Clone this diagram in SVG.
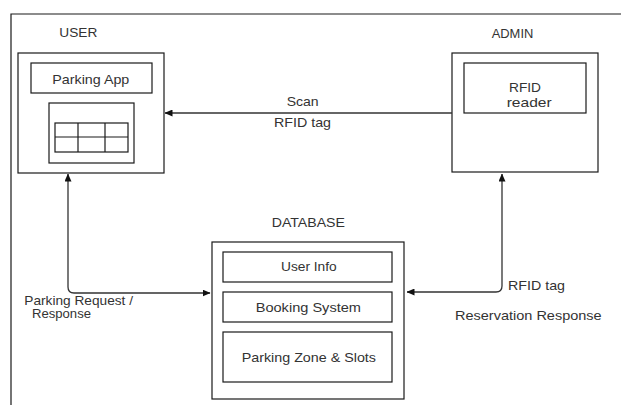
<svg xmlns="http://www.w3.org/2000/svg" width="621" height="405" viewBox="0 0 621 405">
  <style>
    .box { fill: #ffffff; stroke: #1a1a1a; stroke-width: 1.2; }
    .frame { fill: none; stroke: #1a1a1a; stroke-width: 1.2; }
    .wire { fill: none; stroke: #333333; stroke-width: 1.3; }
    .lbl { font-family: "Liberation Sans", Arial, sans-serif; font-size: 13px; fill: #333333; }
  </style>
  <defs>
    <marker id="arrow" viewBox="0 0 8 7" refX="7.5" refY="3.5" markerWidth="8" markerHeight="7" markerUnits="userSpaceOnUse" orient="auto-start-reverse">
      <path d="M0,0 L8,3.5 L0,7 Z" fill="#111111"/>
    </marker>
  </defs>

  <rect width="621" height="405" fill="#ffffff"/>

  <!-- outer page frame (top and left edges only) -->
  <path class="frame" d="M11,405 V14 H621"/>

  <g id="user">
    <text class="lbl" x="59.3" y="37" textLength="38" lengthAdjust="spacingAndGlyphs">USER</text>
    <rect class="box" x="18" y="53" width="146" height="120"/>
    <rect class="box" x="31" y="63" width="121" height="30"/>
    <text class="lbl" x="52.3" y="84" textLength="77" lengthAdjust="spacingAndGlyphs">Parking App</text>
    <rect class="box" x="49" y="103" width="85" height="60"/>
    <g class="frame">
      <rect x="55" y="123" width="73" height="29"/>
      <line x1="55" y1="137" x2="128" y2="137"/>
      <line x1="78" y1="123" x2="78" y2="152"/>
      <line x1="105" y1="123" x2="105" y2="152"/>
    </g>
  </g>

  <g id="admin">
    <text class="lbl" x="491.7" y="38" textLength="41.6" lengthAdjust="spacingAndGlyphs">ADMIN</text>
    <rect class="box" x="452" y="53" width="146" height="119"/>
    <rect class="box" x="464" y="63" width="122" height="50"/>
    <text class="lbl" x="509" y="92" textLength="32" lengthAdjust="spacingAndGlyphs">RFID</text>
    <text class="lbl" x="506.7" y="107" textLength="45" lengthAdjust="spacingAndGlyphs">reader</text>
  </g>

  <g id="database">
    <text class="lbl" x="271.7" y="227" textLength="73.3" lengthAdjust="spacingAndGlyphs">DATABASE</text>
    <rect class="box" x="212" y="242" width="192" height="157"/>
    <rect class="box" x="223" y="252" width="169" height="30"/>
    <text class="lbl" x="281" y="271" textLength="55.7" lengthAdjust="spacingAndGlyphs">User Info</text>
    <rect class="box" x="223" y="292" width="169" height="30"/>
    <text class="lbl" x="255.7" y="312" textLength="105.3" lengthAdjust="spacingAndGlyphs">Booking System</text>
    <rect class="box" x="223" y="332" width="169" height="50"/>
    <text class="lbl" x="241.7" y="361.5" textLength="134.3" lengthAdjust="spacingAndGlyphs">Parking Zone &amp; Slots</text>
  </g>

  <g id="connectors">
    <path class="wire" d="M452,113 H165" marker-end="url(#arrow)"/>
    <text class="lbl" x="286.7" y="106" textLength="32" lengthAdjust="spacingAndGlyphs">Scan</text>
    <text class="lbl" x="274" y="127" textLength="57" lengthAdjust="spacingAndGlyphs">RFID tag</text>

    <path class="wire" d="M68,174 V287 Q68,293 74,293 H210" marker-start="url(#arrow)" marker-end="url(#arrow)"/>
    <text class="lbl" x="24.3" y="304.5" textLength="108.7" lengthAdjust="spacingAndGlyphs">Parking Request /</text>
    <text class="lbl" x="32" y="318" textLength="59" lengthAdjust="spacingAndGlyphs">Response</text>

    <path class="wire" d="M502,174 V286 Q502,292 496,292 H407" marker-start="url(#arrow)" marker-end="url(#arrow)"/>
    <text class="lbl" x="508" y="290" textLength="57" lengthAdjust="spacingAndGlyphs">RFID tag</text>
    <text class="lbl" x="455" y="320" textLength="146.7" lengthAdjust="spacingAndGlyphs">Reservation Response</text>
  </g>
</svg>
